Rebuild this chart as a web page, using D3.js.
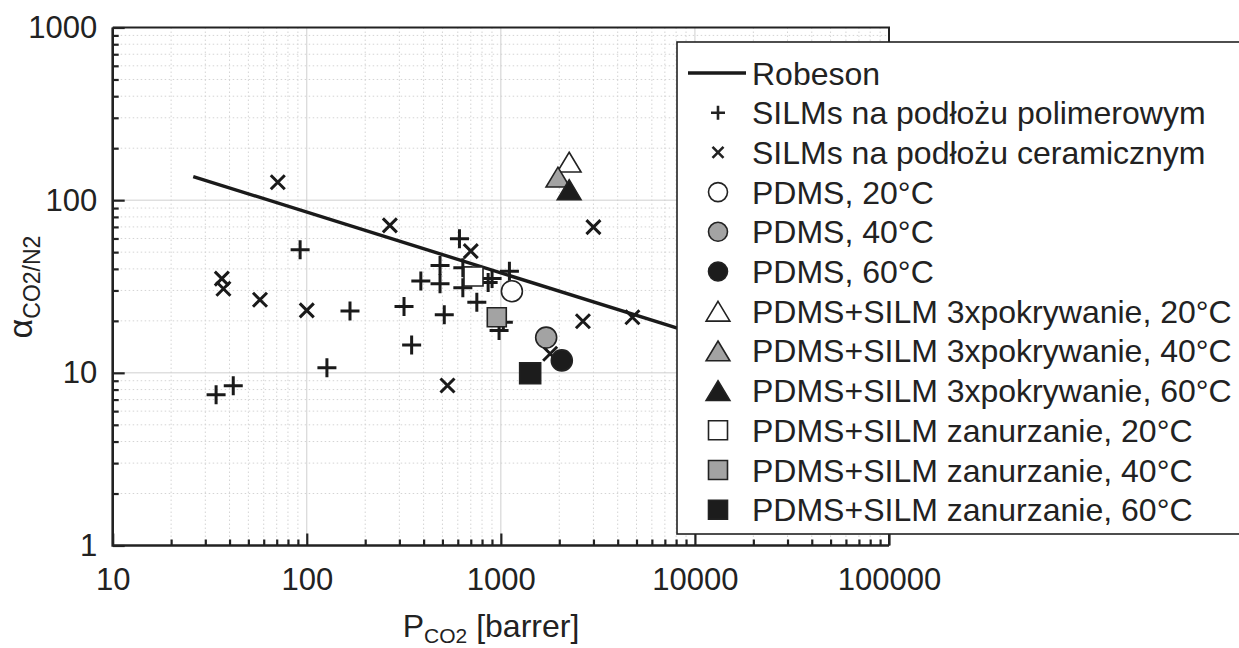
<!DOCTYPE html>
<html>
<head>
<meta charset="utf-8">
<script src="https://cdn.jsdelivr.net/npm/d3@7"></script>
<style>
  body { margin: 0; background: #fff; overflow: hidden; }
  text { font-family: "Liberation Sans", Arial, sans-serif; fill: #222; }
</style>
</head>
<body>
<div id="chart"></div>
<script>
// Robeson upper bound (two ends of a straight line on log-log axes)
const robesonP = [26, 100000];
const robesonA = [137, 7.5];

// SILMs on polymer support (+)
const polymerP = [34.1, 41.8, 92.4, 127, 167, 317, 347, 387, 486, 486, 511, 612, 637, 637, 752, 860, 901, 979, 1030, 1107];
const polymerA = [7.46, 8.41, 51.6, 10.7, 22.8, 24.2, 14.5, 34.0, 41.9, 32.8, 21.7, 59.8, 40.6, 31.1, 25.6, 33.4, 35.2, 17.6, 19.6, 38.8];

// SILMs on ceramic support (x)
const ceramicP = [36.5, 37.2, 57.4, 70.9, 100, 268, 531, 700, 1795, 2648, 2999, 4764];
const ceramicA = [35.1, 30.7, 26.5, 127, 23.0, 71.5, 8.44, 50.7, 12.9, 19.9, 69.8, 21.0];

// own membranes: 20, 40, 60 C
const pdmsP = [1140, 1712, 2061];
const pdmsA = [29.7, 16.0, 11.8];
const coatP = [2249, 1968, 2249];
const coatA = [166, 136, 115];
const dipP = [723, 953, 1416];
const dipA = [36.1, 21.0, 9.95];

const xTicks = [10, 100, 1000, 10000, 100000];
const yTicks = [1, 10, 100, 1000];

const legendNames = [
  "Robeson",
  "SILMs na podłożu polimerowym",
  "SILMs na podłożu ceramicznym",
  "PDMS, 20°C",
  "PDMS, 40°C",
  "PDMS, 60°C",
  "PDMS+SILM 3xpokrywanie, 20°C",
  "PDMS+SILM 3xpokrywanie, 40°C",
  "PDMS+SILM 3xpokrywanie, 60°C",
  "PDMS+SILM zanurzanie, 20°C",
  "PDMS+SILM zanurzanie, 40°C",
  "PDMS+SILM zanurzanie, 60°C"
];

const width = 1239, height = 648;
const pLeft = 112.7, pRight = 889, pTop = 27.5, pBottom = 545.5;
const ink = "#222";
const fills = ["#fff", "#a3a3a3", "#1c1c1c"];

const svg = d3.select("#chart").append("svg")
  .attr("width", width).attr("height", height);

const x = d3.scaleLog().domain([10, 100000]).range([pLeft, pRight]);
const y = d3.scaleLog().domain([1, 1000]).range([pBottom, pTop]);

// grid: dotted minor, solid major
const minorX = x.ticks().filter(v => !xTicks.includes(v));
const minorY = y.ticks().filter(v => !yTicks.includes(v));
const grid = svg.append("g");
grid.selectAll(".mx").data(minorX).join("line")
  .attr("x1", d => x(d)).attr("x2", d => x(d)).attr("y1", pTop).attr("y2", pBottom)
  .attr("stroke", "#d4d4d4").attr("stroke-dasharray", "1.5,2.5");
grid.selectAll(".my").data(minorY).join("line")
  .attr("y1", d => y(d)).attr("y2", d => y(d)).attr("x1", pLeft).attr("x2", pRight)
  .attr("stroke", "#d4d4d4").attr("stroke-dasharray", "1.5,2.5");
grid.selectAll(".Mx").data(xTicks).join("line")
  .attr("x1", d => x(d)).attr("x2", d => x(d)).attr("y1", pTop).attr("y2", pBottom)
  .attr("stroke", "#cfcfcf");
grid.selectAll(".My").data(yTicks).join("line")
  .attr("y1", d => y(d)).attr("y2", d => y(d)).attr("x1", pLeft).attr("x2", pRight)
  .attr("stroke", "#cfcfcf");

// axes with inward ticks
function styleAxis(g) {
  g.select(".domain").remove();
  g.selectAll(".tick line").attr("stroke", ink).attr("stroke-width", 2.2);
  g.selectAll(".tick text").attr("font-size", 31).attr("fill", ink)
    .attr("font-family", '"Liberation Sans", Arial, sans-serif');
}
svg.append("g").attr("transform", `translate(0,${pBottom})`)
  .call(d3.axisBottom(x).tickValues(minorX).tickSize(-6).tickFormat(""))
  .call(styleAxis);
svg.append("g").attr("transform", `translate(0,${pBottom})`)
  .call(d3.axisBottom(x).tickValues(xTicks).tickSize(-12).tickPadding(22).tickFormat(d3.format("d")))
  .call(styleAxis);
svg.append("g").attr("transform", `translate(${pLeft},0)`)
  .call(d3.axisLeft(y).tickValues(minorY).tickSize(-6).tickFormat(""))
  .call(styleAxis);
svg.append("g").attr("transform", `translate(${pLeft},0)`)
  .call(d3.axisLeft(y).tickValues(yTicks).tickSize(-12).tickPadding(15.5).tickFormat(d3.format("d")))
  .call(styleAxis);

// frame
svg.append("path")
  .attr("d", `M${pLeft},${pTop}H${pRight}V${pBottom}`)
  .attr("fill", "none").attr("stroke", ink).attr("stroke-width", 2);
svg.append("path")
  .attr("d", `M${pLeft},${pTop}V${pBottom}H${pRight}`)
  .attr("fill", "none").attr("stroke", ink).attr("stroke-width", 2.6);

// marker shapes
function markerPath(kind, s) {
  const h = s / 2;
  if (kind === "plus") return `M${-h},0H${h}M0,${-h}V${h}`;
  if (kind === "cross") return `M${-h},${-h}L${h},${h}M${-h},${h}L${h},${-h}`;
  if (kind === "tri") return `M0,${-h * 0.9}L${h * 1.08},${h * 0.9}L${-h * 1.08},${h * 0.9}Z`;
  if (kind === "square") return `M${-h},${-h}H${h}V${h}H${-h}Z`;
  return "";
}

const plot = svg.append("g");

plot.append("path")
  .datum(robesonP.map((p, i) => [p, robesonA[i]]))
  .attr("d", d3.line().x(d => x(d[0])).y(d => y(d[1])))
  .attr("fill", "none").attr("stroke", "#1a1a1a").attr("stroke-width", 3.4);

plot.selectAll(".plus").data(polymerP.map((p, i) => [p, polymerA[i]])).join("path")
  .attr("transform", d => `translate(${x(d[0])},${y(d[1])})`)
  .attr("d", markerPath("plus", 19))
  .attr("stroke", "#1a1a1a").attr("stroke-width", 3).attr("fill", "none");

plot.selectAll(".cross").data(ceramicP.map((p, i) => [p, ceramicA[i]])).join("path")
  .attr("transform", d => `translate(${x(d[0])},${y(d[1])})`)
  .attr("d", markerPath("cross", 14))
  .attr("stroke", "#1a1a1a").attr("stroke-width", 3).attr("fill", "none");

plot.selectAll(".pdms").data(pdmsP.map((p, i) => [p, pdmsA[i], i])).join("circle")
  .attr("cx", d => x(d[0])).attr("cy", d => y(d[1])).attr("r", 10.5)
  .attr("fill", d => fills[d[2]]).attr("stroke", ink).attr("stroke-width", 1.6);

plot.selectAll(".dip").data(dipP.map((p, i) => [p, dipA[i], i])).join("path")
  .attr("transform", d => `translate(${x(d[0])},${y(d[1])})`)
  .attr("d", d => markerPath("square", d[2] === 2 ? 21 : 19))
  .attr("fill", d => fills[d[2]]).attr("stroke", ink).attr("stroke-width", 1.6);

plot.selectAll(".coat").data(coatP.map((p, i) => [p, coatA[i], i])).join("path")
  .attr("transform", d => `translate(${x(d[0])},${y(d[1])})`)
  .attr("d", markerPath("tri", 22))
  .attr("fill", d => fills[d[2]]).attr("stroke", ink).attr("stroke-width", 1.6);

// legend
const lg = svg.append("g");
lg.append("rect")
  .attr("x", 677).attr("y", 42).attr("width", 600).attr("height", 492)
  .attr("fill", "#fff").attr("stroke", ink).attr("stroke-width", 1.6);

const rowY = i => 73 + i * 39.7;
const mx = 718;
const legendKinds = ["line", "plus", "cross", "circle", "circle", "circle", "tri", "tri", "tri", "square", "square", "square"];

legendNames.forEach((name, i) => {
  const kind = legendKinds[i];
  const cy = rowY(i);
  const fill = fills[(i - 3) % 3] || "none";
  if (kind === "line") {
    lg.append("line").attr("x1", 688).attr("x2", 746).attr("y1", cy).attr("y2", cy)
      .attr("stroke", "#1a1a1a").attr("stroke-width", 3.4);
  } else if (kind === "circle") {
    lg.append("circle").attr("cx", mx).attr("cy", cy).attr("r", 9.5)
      .attr("fill", fill).attr("stroke", ink).attr("stroke-width", 1.6);
  } else {
    const size = kind === "plus" ? 14 : kind === "cross" ? 11 : kind === "tri" ? 22 : 19;
    lg.append("path").attr("transform", `translate(${mx},${cy})`)
      .attr("d", markerPath(kind, size))
      .attr("fill", kind === "plus" || kind === "cross" ? "none" : fill)
      .attr("stroke", ink).attr("stroke-width", kind === "plus" || kind === "cross" ? 2.6 : 1.6);
  }
  lg.append("text").attr("x", 752).attr("y", cy).attr("dy", "0.36em")
    .attr("font-size", 32).text(name);
});

// axis titles
const xt = svg.append("text").attr("x", 491).attr("y", 637).attr("text-anchor", "middle")
  .attr("font-size", 32);
xt.append("tspan").text("P");
xt.append("tspan").attr("font-size", 21).attr("dy", 6).text("CO2");
xt.append("tspan").attr("dy", -6).text(" [barrer]");

const yt = svg.append("text").attr("transform", "translate(32,287) rotate(-90)")
  .attr("text-anchor", "middle").attr("font-size", 34);
yt.append("tspan").text("α");
yt.append("tspan").attr("font-size", 23).attr("dy", 8).text("CO2/N2");
</script>
</body>
</html>
